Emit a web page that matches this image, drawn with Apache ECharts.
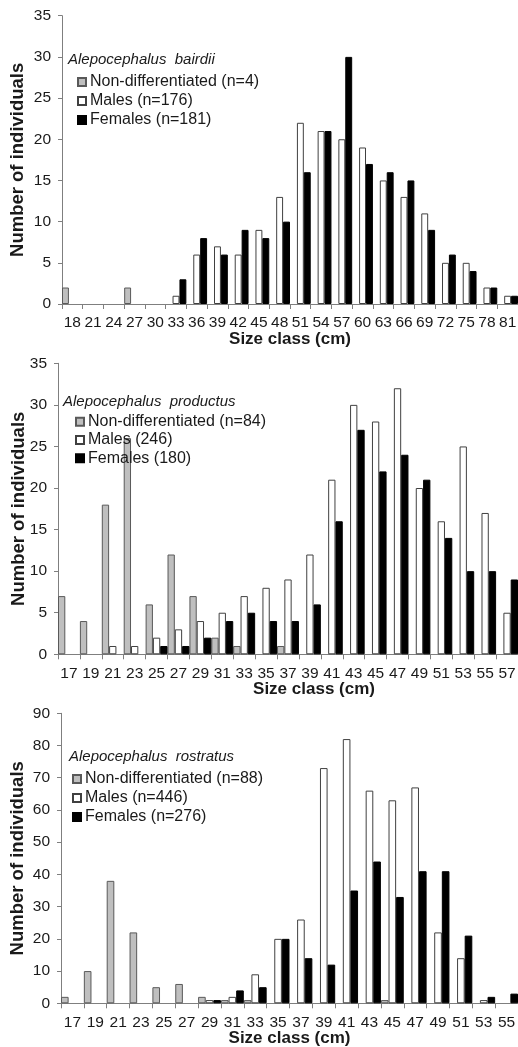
<!DOCTYPE html>
<html>
<head>
<meta charset="utf-8">
<script src="https://cdn.jsdelivr.net/npm/echarts@6/dist/echarts.min.js"></script>
<style>
  html, body { margin: 0; padding: 0; background: #ffffff; }
  #chart { width: 518px; height: 1047px; }
</style>
</head>
<body>
<div id="chart"></div>
<script>
// Size-frequency distributions of three Alepocephalus species (counts per size class)

// A. bairdii — 3 cm classes
const bairdiiSizes   = ['18','21','24','27','30','33','36','39','42','45','48','51','54','57','60','63','66','69','72','75','78','81'];
const bairdiiNonDiff = [2,0,0,2,0,0,0,0,0,0,0,0,0,0,0,0,0,0,0,0,0,0];
const bairdiiMales   = [0,0,0,0,0,1,6,7,6,9,13,22,21,20,19,15,13,11,5,5,2,1];
const bairdiiFemales = [0,0,0,0,0,3,8,6,9,8,10,16,21,30,17,16,15,9,6,4,2,1];

// A. productus — 2 cm classes
const productusSizes   = ['17','19','21','23','25','27','29','31','33','35','37','39','41','43','45','47','49','51','53','55','57'];
const productusNonDiff = [7,4,18,26,6,12,7,2,1,0,1,0,0,0,0,0,0,0,0,0,0];
const productusMales   = [0,0,1,1,2,3,4,5,7,8,9,12,21,30,28,32,20,16,25,17,5];
const productusFemales = [0,0,0,0,1,1,2,4,5,4,4,6,16,27,22,24,21,14,10,10,9];

// A. rostratus — 2 cm classes
const rostratusSizes   = ['17','19','21','23','25','27','29','31','33','35','37','39','41','43','45','47','49','51','53','55'];
const rostratusNonDiff = [2,10,38,22,5,6,2,1,1,0,0,0,0,0,1,0,0,0,0,0];
const rostratusMales   = [0,0,0,0,0,0,1,2,9,20,26,73,82,66,63,67,22,14,1,0];
const rostratusFemales = [0,0,0,0,0,0,1,4,5,20,14,12,35,44,33,41,41,21,2,3];

// Legend / title text
const speciesNames = ['Alepocephalus  bairdii', 'Alepocephalus  productus', 'Alepocephalus  rostratus'];
const legendNames = [
  ['Non-differentiated (n=4)',  'Males (n=176)', 'Females (n=181)'],
  ['Non-differentiated (n=84)', 'Males (246)',   'Females (180)'],
  ['Non-differentiated (n=88)', 'Males (n=446)', 'Females (n=276)']
];
const yMax      = [35, 35, 90];
const yInterval = [5, 5, 10];

const FONT = '"Liberation Sans", Arial, sans-serif';
const AXIS_COLOR = '#7f7f7f';
const TEXT_COLOR = '#1a1a1a';

const panels = [
  { sizes: bairdiiSizes,   series: [bairdiiNonDiff, bairdiiMales, bairdiiFemales],
    grid: { left: 62, top: 15.7, height: 288.3 }, yNameGap: 35, xNamePad: 0,
    title: { left: 68, top: 52 }, legend: { left: 77, top: 72.5 }, legendLH: 19 },
  { sizes: productusSizes, series: [productusNonDiff, productusMales, productusFemales],
    grid: { left: 58, top: 363.3, height: 291 }, yNameGap: 30, xNamePad: 52,
    title: { left: 63, top: 394 }, legend: { left: 75, top: 412.5 }, legendLH: 18.3 },
  { sizes: rostratusSizes, series: [rostratusNonDiff, rostratusMales, rostratusFemales],
    grid: { left: 61, top: 713.3, height: 290 }, yNameGap: 34, xNamePad: 0,
    title: { left: 69, top: 749 }, legend: { left: 72, top: 769.5 }, legendLH: 19 }
];

const seriesStyles = [
  { color: '#bfbfbf', borderColor: '#595959' },
  { color: '#ffffff', borderColor: '#404040' },
  { color: '#000000', borderColor: '#000000' }
];

const option = {
  animation: false,
  backgroundColor: '#ffffff',
  textStyle: { fontFamily: FONT },
  grid: [], xAxis: [], yAxis: [], series: [], title: [], legend: []
};

panels.forEach((p, i) => {
  option.grid.push({
    left: p.grid.left, top: p.grid.top, height: p.grid.height, right: 0,
    containLabel: false, outerBoundsMode: 'none'
  });

  option.xAxis.push({
    type: 'category', gridIndex: i, data: p.sizes,
    axisLine: { lineStyle: { color: AXIS_COLOR, width: 1 } },
    axisTick: { show: true, length: 5, lineStyle: { color: AXIS_COLOR } },
    axisLabel: { interval: 0, fontSize: 15.5, color: TEXT_COLOR, margin: 11, fontFamily: FONT },
    name: 'Size class (cm)', nameLocation: 'middle', nameGap: 27, nameMoveOverlap: false,
    nameTextStyle: { fontSize: 17, fontWeight: 'bold', color: TEXT_COLOR, fontFamily: FONT,
                     padding: [0, 0, 0, p.xNamePad] }
  });

  option.yAxis.push({
    type: 'value', gridIndex: i, min: 0, max: yMax[i], interval: yInterval[i],
    axisLine: { show: true, lineStyle: { color: AXIS_COLOR, width: 1 } },
    axisTick: { show: true, length: 4, lineStyle: { color: AXIS_COLOR } },
    splitLine: { show: false },
    axisLabel: { fontSize: 15.5, color: TEXT_COLOR, margin: 11, fontFamily: FONT },
    name: 'Number of individuals', nameLocation: 'middle', nameGap: p.yNameGap, nameMoveOverlap: false,
    nameTextStyle: { fontSize: 18.5, fontWeight: 'bold', color: TEXT_COLOR, fontFamily: FONT }
  });

  option.title.push({
    text: speciesNames[i], left: p.title.left, top: p.title.top, padding: 0,
    textStyle: { fontSize: 15, fontStyle: 'italic', fontWeight: 'normal', color: TEXT_COLOR, fontFamily: FONT }
  });

  option.legend.push({
    data: legendNames[i], orient: 'vertical', left: p.legend.left, top: p.legend.top,
    padding: 0, itemGap: 0, itemWidth: 8, itemHeight: 8, icon: 'rect', selectedMode: false,
    textStyle: { fontSize: 16, lineHeight: p.legendLH, color: TEXT_COLOR, fontFamily: FONT, padding: [0, 0, 0, -1] }
  });

  p.series.forEach((vals, k) => {
    option.series.push({
      type: 'bar', name: legendNames[i][k], xAxisIndex: i, yAxisIndex: i,
      barGap: '0%', barCategoryGap: '0%',
      itemStyle: { color: seriesStyles[k].color, borderColor: seriesStyles[k].borderColor, borderWidth: 1 },
      emphasis: { disabled: true },
      data: vals.map(v => (v === 0 ? null : v))
    });
  });
});

const chart = echarts.init(document.getElementById('chart'), null, { renderer: 'canvas' });
chart.setOption(option);
</script>
</body>
</html>
